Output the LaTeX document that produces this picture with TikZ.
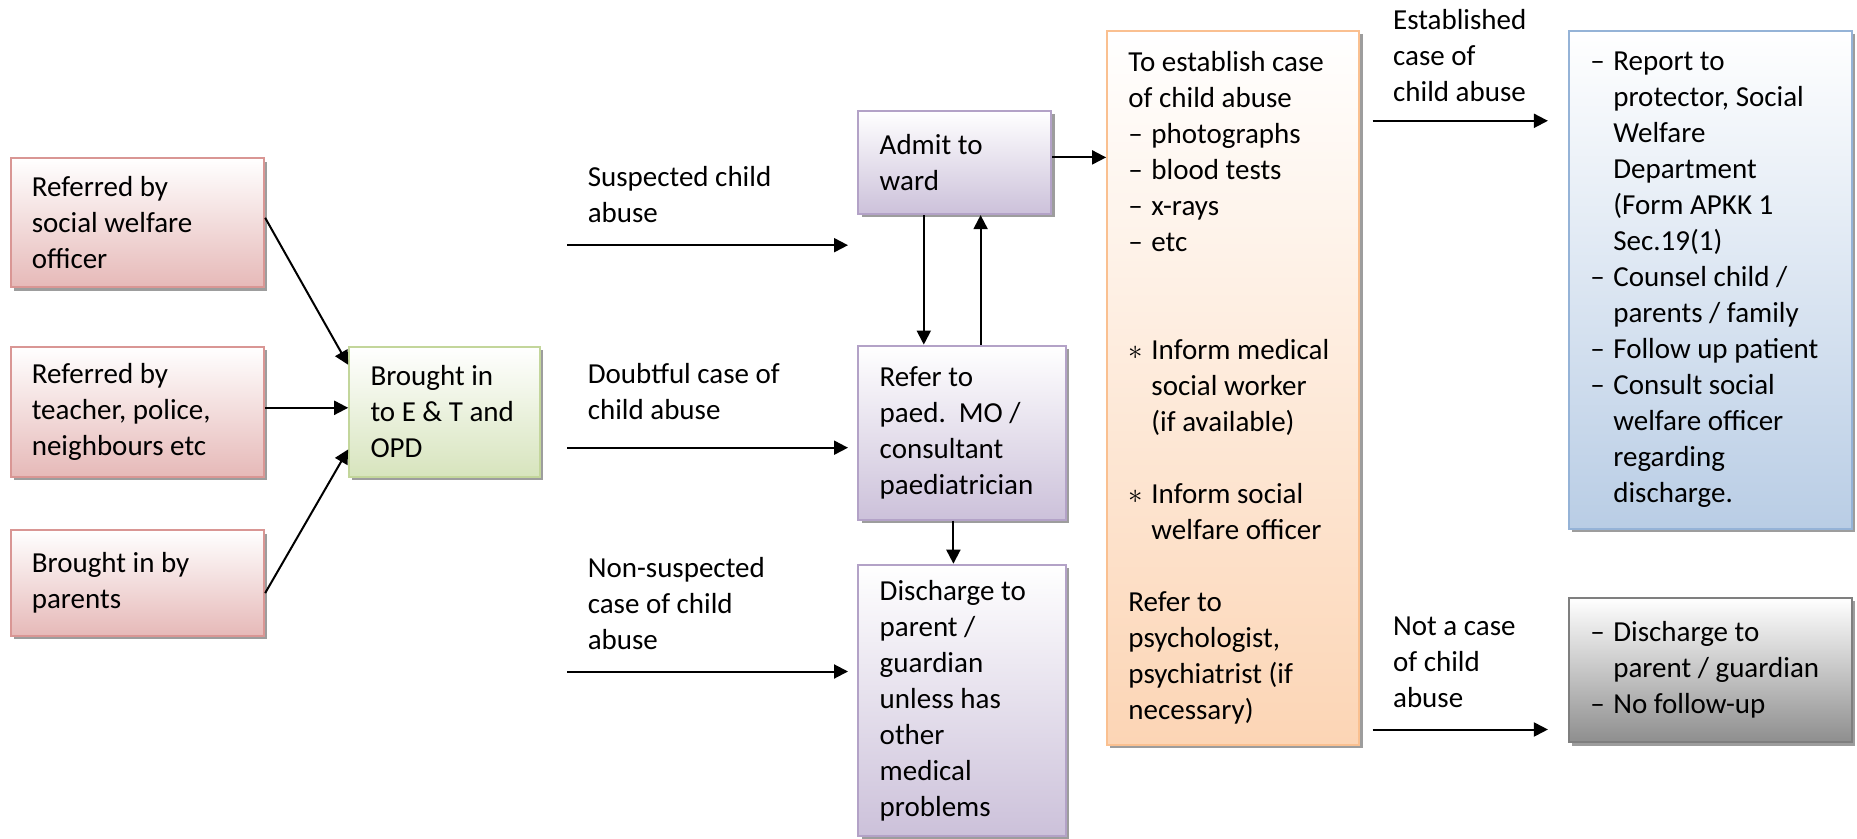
\documentclass[tikz,border=0pt]{standalone}
\usepackage{fontspec}
\setmainfont{Carlito}
\usetikzlibrary{arrows.meta,shadows}

\definecolor{redline}{HTML}{D99694}
\definecolor{redfill}{HTML}{E6B9B8}
\definecolor{greenline}{HTML}{C3D69B}
\definecolor{greenfill}{HTML}{D7E4BD}
\definecolor{purpleline}{HTML}{B3A2C7}
\definecolor{purplefill}{HTML}{CCC1DA}
\definecolor{orangeline}{HTML}{FAC090}
\definecolor{orangefill}{HTML}{FCD5B5}
\definecolor{blueline}{HTML}{95B3D7}
\definecolor{bluefill}{HTML}{B9CDE5}
\definecolor{grayline}{HTML}{7F7F7F}
\definecolor{grayfill}{HTML}{8E8E8E}

\newcommand{\itemdash}{\makebox[11.5pt][l]{--}}
\newcommand{\itemstar}{\makebox[11.5pt][l]{$\ast$}}
\newcommand{\itemgap}{\makebox[11.5pt]{}}

\tikzset{
  box/.style={draw, line width=1pt, anchor=north west, align=flush left,
    inner xsep=10.66pt, inner ysep=0pt,
    font=\fontsize{14.5}{18}\selectfont,
    drop shadow={shadow xshift=1.6pt, shadow yshift=-1.6pt, fill=black!45, opacity=0.85}},
  redbox/.style={box, draw=redline, top color=white, bottom color=redfill, text width=105.5pt},
  greenbox/.style={box, draw=greenline, top color=white, bottom color=greenfill, text width=74pt},
  purplebox/.style={box, draw=purpleline, top color=white, bottom color=purplefill, text width=82.3pt},
  orangebox/.style={box, draw=orangeline, top color=white, bottom color=orangefill, text width=104.8pt},
  bluebox/.style={box, draw=blueline, top color=white, bottom color=bluefill, text width=120.2pt},
  graybox/.style={box, draw=grayline, top color=white, bottom color=grayfill, text width=120.2pt},
  lbl/.style={anchor=west, align=flush left, inner sep=0pt, font=\fontsize{14.5}{18}\selectfont},
  arr/.style={-{Triangle[length=7pt,width=7pt]}, line width=1pt}
}

\begin{document}
\begin{tikzpicture}[x=0.5pt, y=-0.5pt]
  \useasboundingbox (0,0) rectangle (1857,839);

  % Who brings the child
  \node[redbox, minimum height=64.5pt] (swo) at (9.5,157.5) {Referred by\\social welfare\\officer};
  \node[redbox, minimum height=65pt] (tpn) at (9.5,345.8) {Referred by\\teacher, police,\\neighbours etc};
  \node[redbox, minimum height=52.7pt] (par) at (9.5,529.4) {Brought in by\\parents};
  \node[greenbox, minimum height=65pt] (opd) at (348.2,345.8) {Brought in\\\mbox{to E \& T and}\\OPD};

  % Clinical path
  \node[purplebox, text width=75.2pt, minimum height=51.5pt] (ward) at (857.4,110.1) {Admit to\\ward};
  \node[purplebox, minimum height=87pt] (paed) at (857.4,344.6) {Refer to\\paed.\ \ MO /\\consultant\\paediatrician};
  \node[purplebox, minimum height=135.6pt] (disc) at (857.4,563.7) {Discharge to\\parent /\\guardian\\unless has\\other\\medical\\problems};

  % Investigation
  \node[orangebox, minimum height=357pt] (est) at (1106.1,29.6) {To establish case\\of child abuse\\\itemdash photographs\\\itemdash blood tests\\\itemdash x-rays\\\itemdash etc\\[36pt]\itemstar Inform medical\\\itemgap social worker\\\itemgap (if available)\\[18pt]\itemstar Inform social\\\itemgap welfare officer\\[18pt]Refer to\\psychologist,\\psychiatrist (if\\necessary)};

  % Outcomes
  \node[bluebox, minimum height=249.3pt] (yes) at (1568,29.6) {\itemdash Report to\\\itemgap protector, Social\\\itemgap Welfare\\\itemgap Department\\\itemgap (Form APKK 1\\\itemgap Sec.19(1)\\\itemdash Counsel child /\\\itemgap parents / family\\\itemdash Follow up patient\\\itemdash Consult social\\\itemgap welfare officer\\\itemgap regarding\\\itemgap discharge.};
  \node[graybox, minimum height=72.2pt] (no) at (1568,596.9) {\itemdash Discharge to\\\itemgap parent / guardian\\\itemdash No follow-up};

  % Labels
  \node[lbl] (lsus) at (587.4,194.2) {Suspected child\\abuse};
  \node[lbl] (ldou) at (587.4,392) {Doubtful case of\\child abuse};
  \node[lbl] (lnon) at (587.4,604) {Non-suspected\\case of child\\abuse};
  \node[lbl] (lest) at (1392.7,55.7) {Established\\case of\\child abuse};
  \node[lbl] (lnot) at (1392.7,662) {Not a case\\of child\\abuse};

  % Arrows
  \draw[arr] ([yshift=2.6pt]swo.east) -- ([yshift=-9.5pt]opd.north west);
  \draw[arr] ([yshift=2pt]tpn.east) -- ([yshift=2pt]opd.west);
  \draw[arr] ([yshift=-5pt]par.east) -- ([yshift=14.2pt]opd.south west);

  \foreach \n/\yy in {sus/245.2, dou/447.7, non/671.5} {
    \coordinate (\n-a) at (567.3,\yy);
    \coordinate (\n-b) at (848,\yy);
    \draw[arr] (\n-a) -- (\n-b);
  }
  \foreach \n/\yy in {est/120.8, not/729.5} {
    \coordinate (\n-a) at (1372.6,\yy);
    \coordinate (\n-b) at (1547.9,\yy);
    \draw[arr] (\n-a) -- (\n-b);
  }

  \draw[arr] ([yshift=2.6pt]ward.east) -- ([yshift=2.6pt]ward.east -| est.west);
  \draw[arr] ([xshift=33.2pt]ward.south west) -- ([xshift=33.2pt]ward.south west |- paed.north);
  \draw[arr] ([xshift=61.6pt]paed.north west) -- ([xshift=61.6pt]paed.north west |- ward.south);
  \draw[arr] ([xshift=48pt]paed.south west) -- ([xshift=48pt]paed.south west |- disc.north);
\end{tikzpicture}
\end{document}
